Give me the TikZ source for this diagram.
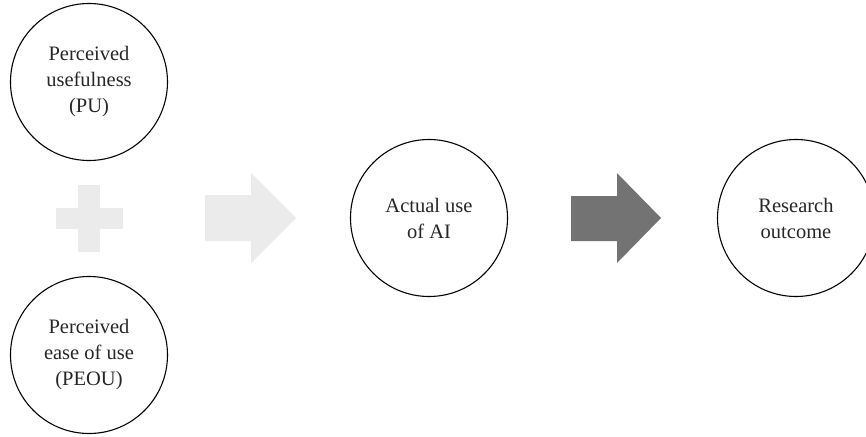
\documentclass[tikz,border=0pt]{standalone}
\usepackage{fontspec}
\setmainfont{Liberation Serif}
\begin{document}
\begin{tikzpicture}[x=1pt,y=-1pt,
  concept/.style={circle,draw=black,line width=1.1pt,minimum size=157pt,inner sep=0pt,
    align=center,font=\fontsize{20.5}{26}\selectfont,text=black!85},
  lightshape/.style={fill=black!8,draw=none},
  darkshape/.style={fill=black!55,draw=none}]
\useasboundingbox (0,0) rectangle (866,436);
\node[concept] (pu) at (89,82) {Perceived\\usefulness\\(PU)};
\node[concept] (peou) at (89,355) {Perceived\\ease of use\\(PEOU)};
\node[concept] (use) at (429,218) {Actual use\\of AI};
\node[concept] (out) at (796,218) {Research\\outcome};
% plus sign
\fill[lightshape] (78,185) rectangle (100,252);
\fill[lightshape] (56,208) rectangle (123,229);
% light arrow
\fill[lightshape] (205,195) -- (251,195) -- (251,173) -- (296,218) -- (251,263) -- (251,241) -- (205,241) -- cycle;
% dark arrow
\fill[darkshape] (571,196) -- (617,196) -- (617,173) -- (661,218) -- (617,263) -- (617,241) -- (571,241) -- cycle;
\end{tikzpicture}
\end{document}
